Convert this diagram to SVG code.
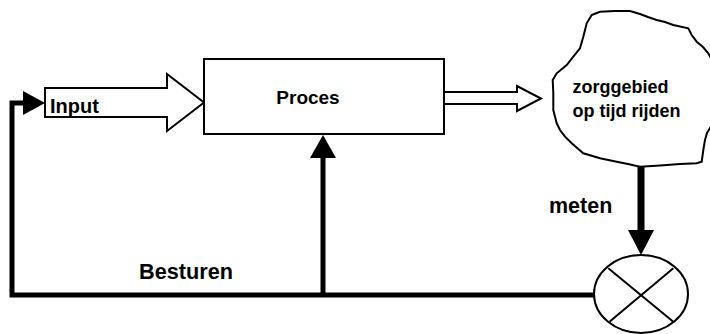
<svg xmlns="http://www.w3.org/2000/svg" width="710" height="334" viewBox="0 0 710 334">
<style>
  .txt { font-family: "Liberation Sans", Arial, sans-serif; font-weight: bold; fill: #000; }
  .outline { fill: #fff; stroke: #000; stroke-width: 2; stroke-linejoin: miter; }
  .thick { fill: none; stroke: #000; stroke-linejoin: miter; stroke-linecap: butt; }
  .head { fill: #000; stroke: none; }
  .thin { stroke: #000; stroke-width: 2; fill: none; }
</style>
<rect width="710" height="334" fill="#fff"/>
<g id="connectors">
  <polygon id="input-arrow" class="outline" points="45,88 167,88 167,74 204,102.5 167,131 167,117 45,117"/>
  <polygon id="output-arrow" class="outline" points="444,92 517,92 517,86 541,98.5 517,111 517,104 444,104"/>
  <path class="thick" stroke-width="5" d="M594,295 H12 V103 H24"/>
  <polygon class="head" points="23,91 45,103 23,115"/>
  <path class="thick" stroke-width="5" d="M323,295 V156"/>
  <polygon class="head" points="310,158 336,158 323,135"/>
  <path class="thick" stroke-width="7" d="M641,166 V232"/>
  <polygon class="head" points="628,230 654,230 641,255"/>
</g>
<g id="proces">
  <rect class="outline" x="204" y="59" width="240" height="75"/>
  <text class="txt" x="308" y="104" font-size="19" text-anchor="middle">Proces</text>
</g>
<g id="input-label">
  <text class="txt" x="50" y="113" font-size="20">Input</text>
</g>
<g id="zorggebied">
  <path class="outline" d="M591.7,15 L600,11.7 L615,11 L630,11 L640,14 L648,17 L656.7,20 L665,22 L673.3,25 L688.3,28.3 L691.7,35 L696.7,41.7 L703,47 L708.3,53.3 L712,60 L712,125 L707,133 L705,140 L703.3,150 L701.7,161.7 L696.7,163.3 L680,164 L660,165.5 L640,166.7 L628,164 L616.7,161.7 L600,158.3 L583.3,153.3 L571.7,143.3 L565,136.7 L560,130 L556.7,123.3 L553.3,110 L553.3,93.3 L552.7,80 L556.7,73.3 L566.7,65 L573.3,56.7 L580,48.3 L583.3,36.7 L586.7,23.3 Z"/>
  <text class="txt" x="572.5" y="93.3" font-size="18">zorggebied</text>
  <text class="txt" x="572.5" y="116.5" font-size="18">op tijd rijden</text>
</g>
<g id="meten-label">
  <text class="txt" x="549" y="212.7" font-size="21.5">meten</text>
</g>
<g id="besturen-label">
  <text class="txt" x="139" y="279" font-size="21.7">Besturen</text>
</g>
<g id="comparator">
  <ellipse class="outline" cx="641" cy="294" rx="47" ry="39"/>
  <line class="thin" x1="608.3" y1="268.3" x2="673.3" y2="321.7"/>
  <line class="thin" x1="673.3" y1="268.3" x2="609.5" y2="321.7"/>
</g>
</svg>
